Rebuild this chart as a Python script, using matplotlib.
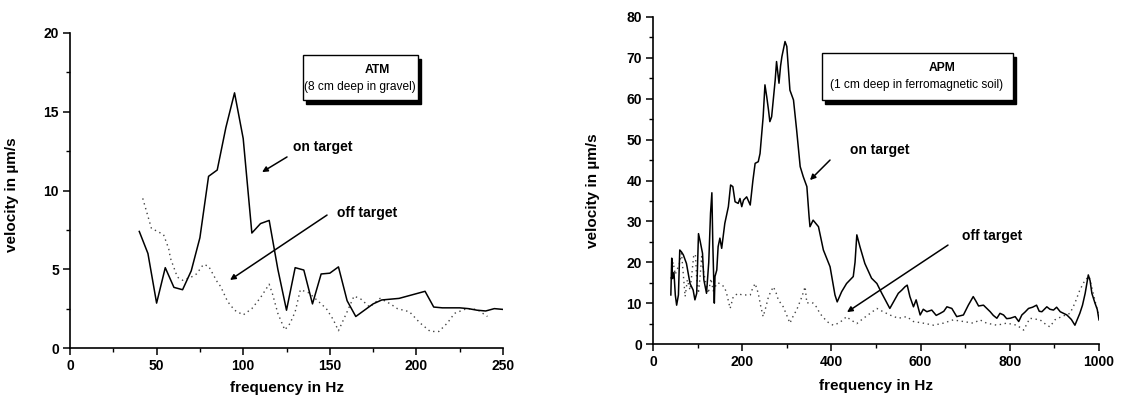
import matplotlib
matplotlib.use("Agg")
import matplotlib.pyplot as plt
from matplotlib.patches import Rectangle
from matplotlib.ticker import MultipleLocator

plt.rcParams['font.family'] = ['Liberation Sans', 'DejaVu Sans']

# ---------------- data: ATM (left panel) ----------------
atm_on_f = [40, 45, 50, 55, 60, 65, 70, 75, 80, 85, 90, 95, 100, 105, 110, 115, 120,
            125, 130, 135, 140, 145, 150, 155, 160, 165, 170, 175, 180, 185, 190, 195,
            200, 205, 210, 215, 220, 225, 230, 235, 240, 245, 250]
atm_on_v = [7.4, 6.0, 2.85, 5.1, 3.85, 3.7, 4.9, 7.0, 10.9, 11.3, 14.0, 16.2, 13.3, 7.3,
            7.9, 8.1, 5.0, 2.4, 5.1, 4.95, 2.8, 4.7, 4.75, 5.15, 3.0, 2.0, 2.4, 2.8, 3.05,
            3.1, 3.15, 3.3, 3.45, 3.6, 2.6, 2.55, 2.55, 2.55, 2.5, 2.4, 2.35, 2.5, 2.45]
atm_off_f = [42, 47, 54, 57, 58, 62, 65, 70, 73, 77, 80, 85, 87, 91, 95, 100, 105, 110,
             115, 117, 120, 124, 127, 130, 133, 138, 143, 148, 152, 155, 160, 164, 168,
             173, 179, 185, 189, 196, 202, 208, 213, 218, 222, 229, 235, 241]
atm_off_v = [9.5, 7.6, 7.2, 6.3, 5.7, 4.5, 4.3, 4.5, 4.7, 5.3, 5.2, 4.2, 3.9, 2.95, 2.4,
             2.1, 2.5, 3.2, 4.05, 3.4, 2.2, 1.15, 1.55, 2.3, 3.7, 3.5, 3.0, 2.5, 1.8, 1.1,
             2.3, 3.3, 3.1, 2.6, 3.15, 2.8, 2.5, 2.3, 1.6, 1.05, 1.05, 1.6, 2.2, 2.5,
             2.45, 2.0]

# ---------------- data: APM (right panel) ----------------
apm_on_f = [40, 42, 44, 47, 50, 53, 57, 60, 64, 68, 75, 83, 90, 94, 98, 102, 106, 111,
            114, 120, 125, 129, 132, 134, 137.5, 139, 143, 146, 150, 154, 161, 169, 174,
            179, 184, 191, 195, 199, 203, 210, 218, 224, 229, 236, 240, 247, 251, 255,
            259, 262, 266, 274, 277, 282.5, 286, 289, 296, 300, 307, 315, 322, 330, 337,
            345, 350, 352, 359, 371, 382, 397, 408, 413, 423, 434, 449, 453, 457, 464,
            475, 490, 502, 513, 531, 550, 558, 565, 570, 576, 584, 590, 599, 606, 614,
            625, 635, 644, 652, 659, 670, 681, 696, 707, 718, 724, 730, 741, 756, 763,
            771, 778, 786, 793, 801, 812, 820, 827, 834, 842, 851, 860, 866, 872, 883,
            890, 898, 905, 913, 928, 938, 946, 957, 963, 969, 976, 980, 984, 991, 996,
            1000]
apm_on_v = [12, 21, 16, 17.5, 12, 9.5, 12, 23, 22.5, 21.8, 19.7, 14.8, 13.2, 10.8, 12.4,
            27, 25, 22.2, 15.7, 12.4, 20, 32, 37, 25, 10, 16.5, 18.1, 23.8, 25.9, 23.4,
            29.5, 33.6, 38.9, 38.5, 34.8, 34.4, 35.6, 33.6, 35.2, 36, 34, 40, 44.2, 44.6,
            46.6, 55.6, 63.4, 60.5, 57.2, 54.4, 55.6, 64.6, 69.1, 63.8, 68, 70.3, 74,
            72.8, 62.1, 59.7, 52.4, 43.4, 40.9, 38.5, 31.1, 28.7, 30.3, 28.7, 23, 18.9,
            12, 10.3, 12.8, 14.8, 16.5, 20, 26.7, 23.8, 19.7, 16.1, 14.8, 12.4, 8.7,
            12.4, 13.2, 14, 14.4, 11.6, 9.1, 10.8, 7.1, 8.5, 7.9, 8.3, 7.0, 7.5, 8.0,
            9.1, 8.7, 6.7, 7.1, 9.5, 11.6, 10.5, 9.3, 9.5, 7.9, 7.0, 6.3, 7.5, 7.1, 6.2,
            6.3, 6.7, 5.5, 7.1, 7.8, 8.7, 9.0, 9.5, 8.0, 7.9, 9.1, 8.5, 8.3, 9.0, 7.9,
            7.1, 6.0, 4.6, 7.5, 9.5, 12.4, 16.9, 15.5, 12.4, 10.0, 8.5, 5.9]
apm_off_f = [40, 45, 50, 53, 58, 64, 68, 72, 77, 83, 87, 91, 95, 98, 102, 106, 109, 113,
             117, 124, 130, 135, 139, 146, 154, 160, 165, 173, 180, 191, 199, 206, 218,
             223, 229, 236, 242, 247, 253, 259, 265, 270, 276, 281, 292, 300, 307, 315,
             322, 334, 341, 345, 352, 359, 367, 374, 382, 390, 397, 404, 416, 425, 434,
             442, 457, 472, 487, 502, 516, 531, 550, 569, 584, 606, 629, 651, 673, 696,
             718, 733, 748, 771, 793, 816, 831, 845, 868, 883, 890, 901, 916, 935, 946,
             957, 969, 978, 987, 998]
apm_off_v = [16, 20, 17, 18.1, 19, 22.2, 17, 11.6, 15.7, 13.2, 17, 21.4, 22, 16, 12.4,
             17, 21.4, 18, 15.7, 12.4, 16, 13, 14, 15, 14.4, 14, 12.4, 8.7, 11.6, 12.4,
             12, 12, 12, 13.5, 14.8, 12.4, 9, 6.7, 9, 11.6, 13, 14, 12.5, 10.8, 9.1, 7,
             5.1, 7, 8.3, 11.6, 14, 10, 10.2, 10, 9, 7.5, 6.5, 5.5, 5, 4.6, 5.1, 5.8, 6.7,
             6, 5.0, 6.3, 7.5, 8.7, 7.9, 7.1, 6.3, 6.7, 5.5, 5.1, 4.6, 5.1, 5.9, 5.5,
             5.1, 5.9, 5.1, 4.6, 5.1, 4.6, 3.4, 6.3, 5.9, 4.6, 4.2, 5.9, 6.7, 7.5, 10,
             13.2, 15.7, 16.5, 12.4, 7.5]

W, H = 1124, 400
fig = plt.figure(figsize=(W / 100, H / 100), dpi=100)
fig.patch.set_facecolor('white')


def fx(px):
    return px / W


def fy(py):
    return 1 - py / H


ax1 = fig.add_axes([fx(70), fy(348), (503 - 70) / W, (348 - 33) / H])
ax2 = fig.add_axes([fx(653), fy(344), (1099 - 653) / W, (344 - 17) / H])

dot_style = dict(color='#444444', linestyle=(0, (1, 2.6)), linewidth=1.0)
solid_style = dict(color='black', linewidth=1.1)

ax1.plot(atm_off_f, atm_off_v, **dot_style)
ax1.plot(atm_on_f, atm_on_v, **solid_style)
ax2.plot(apm_off_f, apm_off_v, **dot_style)
ax2.plot(apm_on_f, apm_on_v, **solid_style)

ax1.set_xlim(0, 250)
ax1.set_ylim(0, 20)
ax1.xaxis.set_major_locator(MultipleLocator(50))
ax1.xaxis.set_minor_locator(MultipleLocator(25))
ax1.yaxis.set_major_locator(MultipleLocator(5))
ax1.yaxis.set_minor_locator(MultipleLocator(2.5))

ax2.set_xlim(0, 1000)
ax2.set_ylim(0, 80)
ax2.xaxis.set_major_locator(MultipleLocator(200))
ax2.xaxis.set_minor_locator(MultipleLocator(100))
ax2.yaxis.set_major_locator(MultipleLocator(10))
ax2.yaxis.set_minor_locator(MultipleLocator(5))

for ax, lab_y_y, lab_x_y in [(ax1, 0.486, -0.105), (ax2, 0.468, -0.108)]:
    for s in ['top', 'right']:
        ax.spines[s].set_visible(False)
    for s in ['left', 'bottom']:
        ax.spines[s].set_linewidth(1.2)
    ax.tick_params(which='major', direction='out', length=5, width=1.1,
                   labelsize=10, pad=3)
    ax.tick_params(which='minor', direction='out', length=3, width=1.0)
    for t in ax.get_xticklabels() + ax.get_yticklabels():
        t.set_fontweight('bold')
    ax.set_xlabel('frequency in Hz', fontsize=11, fontweight='bold')
    ax.set_ylabel('velocity in µm/s', fontsize=11, fontweight='bold')
    ax.xaxis.set_label_coords(0.5, lab_x_y)
    ax.yaxis.set_label_coords(-0.118, lab_y_y)

# annotations (arrows)
arrow_kw = dict(arrowstyle='-|>', color='black', lw=1.1, mutation_scale=8,
                shrinkA=0, shrinkB=0)
ax1.annotate('', xy=(110.9, 11.17), xytext=(125.3, 12.13), arrowprops=arrow_kw)
ax1.text(128.8, 12.76, 'on target', fontsize=10, fontweight='bold', va='center')
ax1.annotate('', xy=(92.4, 4.32), xytext=(148.4, 8.44), arrowprops=arrow_kw)
ax1.text(154.2, 8.6, 'off target', fontsize=10, fontweight='bold', va='center')

ax2.annotate('', xy=(352, 40.1), xytext=(396.9, 45.0), arrowprops=arrow_kw)
ax2.text(441.7, 47.5, 'on target', fontsize=10, fontweight='bold', va='center')
ax2.annotate('', xy=(435, 7.8), xytext=(661.4, 24.2), arrowprops=arrow_kw)
ax2.text(692.8, 26.4, 'off target', fontsize=10, fontweight='bold', va='center')


def box(x0, y0, x1, y1, title, sub, tx, sx):
    # shadow
    fig.patches.append(Rectangle((fx(x0 + 3), fy(y1 + 4)), (x1 - x0) / W, (y1 - y0) / H,
                                 transform=fig.transFigure, facecolor='black',
                                 edgecolor='black', zorder=5))
    fig.patches.append(Rectangle((fx(x0), fy(y1)), (x1 - x0) / W, (y1 - y0) / H,
                                 transform=fig.transFigure, facecolor='white',
                                 edgecolor='black', linewidth=1.0, zorder=6))
    fig.text(fx(tx), fy(y0 + 15), title, fontsize=8.7, fontweight='bold',
             ha='center', va='center', zorder=7)
    fig.text(fx(sx), fy(y0 + 32), sub, fontsize=8.6, ha='center', va='center', zorder=7)


box(303, 55, 418, 100, 'ATM', '(8 cm deep in gravel)', 377, 360)
box(822, 53, 1013, 100, 'APM', '(1 cm deep in ferromagnetic soil)', 942, 917)

fig.savefig('out.png', dpi=100, facecolor='white')
